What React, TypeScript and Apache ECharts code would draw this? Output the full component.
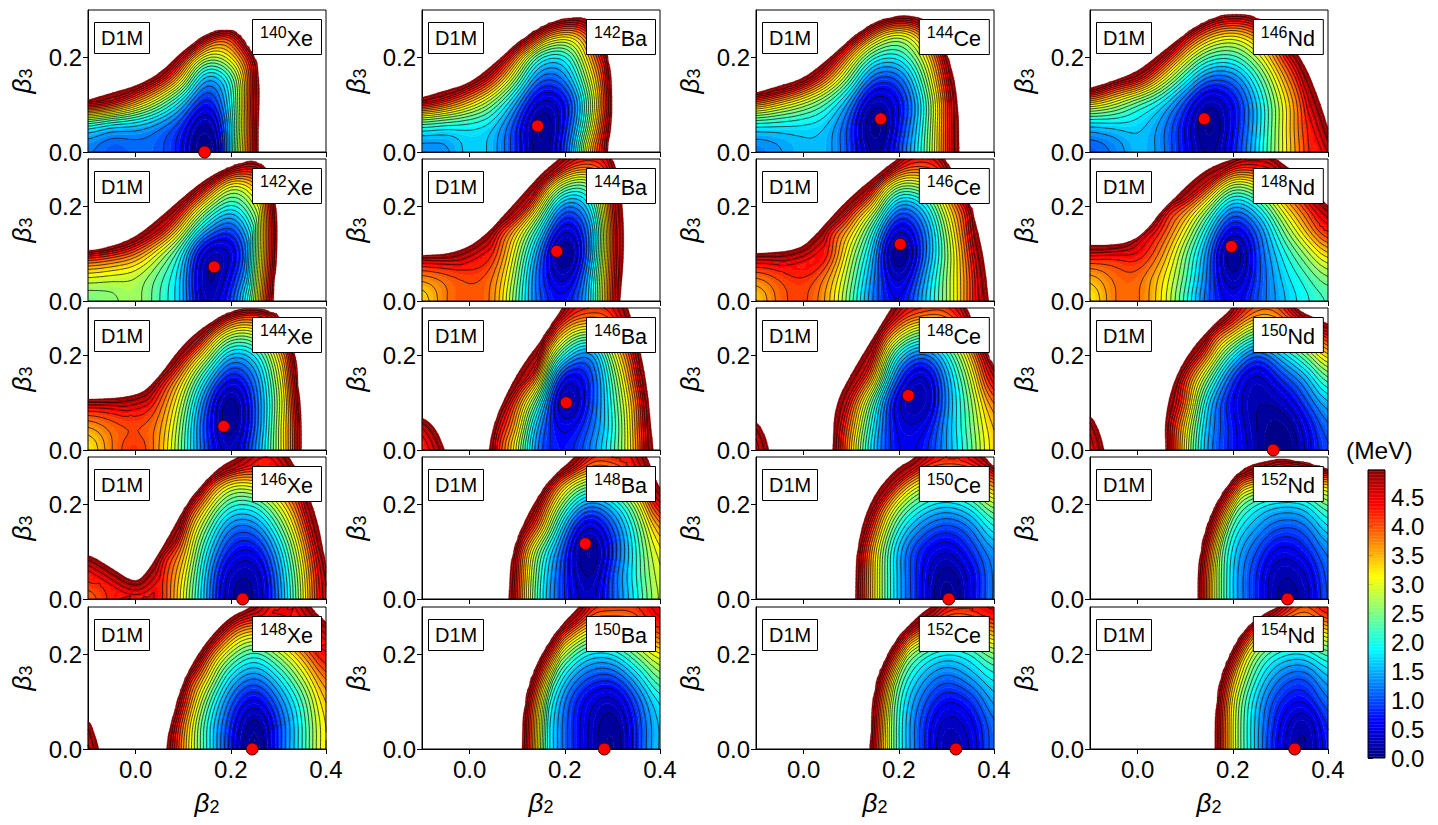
import React, { useEffect, useRef } from "react";
import * as echarts from "echarts";

const FONT = '"Liberation Sans", Arial, sans-serif';

// grid of energies (MeV): rows are beta3 = 0 .. 0.30, columns are beta2 = -0.10 .. 0.40
const beta2Grid = [-0.1, -0.05, 0, 0.05, 0.1, 0.15, 0.2, 0.25, 0.3, 0.35, 0.4];
const beta3Grid = [0, 0.05, 0.1, 0.15, 0.2, 0.25, 0.3];

const xe140 = [[1.2,1.0,1.1,1.05,.6,0,1.9,4.7,7.8,11,12],[1.8,1.5,1.45,1.2,.75,.1,1.8,4.7,7.8,11,12],[4.6,4.2,3.4,2.5,1.5,.6,1.9,4.8,7.8,11,12],[7.8,6.8,5.7,4.5,3,1.3,2.1,4.7,8,11,12],[11,10,9,7,4.5,2.8,3.2,4.9,8,11,12],[12,12,12,10,7.8,4.9,4.4,7,10,12,12],[12,12,12,12,10.5,8.5,7.8,9,12,12,12]];
const ba142 = [[1.25,1.3,1.7,1.5,.8,.1,.9,3.4,5.3,8,11],[1.9,1.8,1.8,1.6,.8,.05,.7,2.7,5.3,8,11],[4.4,3.9,3.2,2.4,1.3,.3,.6,2.4,5,8,11],[7.5,6.4,5.3,4,2.4,1,1.2,2.8,5,8,11],[11,9.5,8,5.8,3.7,2,1.9,3.4,5.4,9,12],[12,12,11,8.5,6,4.2,3.4,4.1,7,10,12],[12,12,12,12,9,7,6,6,9,12,12]];
const ce144 = [[1.2,1.35,1.55,1.5,.9,.15,.9,2.1,4.1,6.8,10],[1.7,1.7,1.7,1.55,.85,.03,.7,2,4.1,6.8,10],[3.7,3.2,2.7,2.1,1.2,.2,.6,1.9,4.1,6.8,10],[6.8,6,4.9,3.6,2.2,.9,1,2.3,4.4,7,10],[11,9.5,7.8,5.4,3.4,2,1.9,2.9,4.9,8,11],[12,12,11,8,5.5,3.7,3,3.8,6,9,12],[12,12,12,11,8.5,6.5,5.8,6,8.5,12,12]];
const nd146 = [[1,1.2,1.55,1.3,.65,.15,.7,1.7,2.9,4,4.9],[1.5,1.6,1.65,1.3,.6,.05,.6,1.6,2.9,4.1,5],[3.2,2.8,2.2,1.7,.9,.2,.6,1.6,2.9,4.2,6],[6.2,5,4.4,3.1,1.9,1,1.1,2,3.3,4.7,7.5],[9.5,8.2,6.8,4.9,3.2,2.2,2.1,2.8,4,5.7,10],[12,11,9.5,7.5,5,3.7,3.3,3.8,4.9,8.5,12],[12,12,12,10,7.8,5.8,5.3,5.6,8,12,12]];

const xe142 = [[2.4,2.5,2.7,2.2,1.5,.25,.9,2.8,5.7,9,12],[3,2.9,2.8,2.3,1.5,.15,.6,2.2,5.3,8.5,12],[4.6,4.3,3.8,2.9,1.8,.3,.4,1.9,4.6,8,12],[8.5,7.5,6,4.6,3,1.4,.9,2.2,4.6,8,12],[12,10.5,9,6.8,4.5,2.8,1.9,2.8,4.6,8,12],[12,12,12,10,7,4.8,3.2,3.6,5,8.5,12],[12,12,12,12,10,8,5.9,5,6,10,12]];
const ba144 = [[3.2,3.8,4.0,3.7,2.3,1,.7,1.6,4.3,7,10],[3.7,3.9,4.05,3.8,2.5,.9,.3,1.5,4.2,7,10],[5.1,5.1,4.9,4.2,2.8,1.1,.05,1.2,4.1,7,10],[8.9,8.9,7.8,4.8,3.4,1.8,.4,1.2,4.1,7,10],[12,12,11,7.5,5.3,3,1.2,1.7,4.3,7,10],[12,12,12,11,8,4.6,2.8,2.6,4.4,7.5,11],[12,12,12,12,10.5,7.5,5,4.4,4.9,8.5,12]];
const ce146 = [[3.3,3.9,4.05,3.5,2.3,1.1,.6,1.5,2.6,4,5.8],[3.8,4.05,4.2,3.7,2.5,1.2,.3,1.3,2.6,4,6],[5,5,5.2,4.3,2.8,1.4,.05,1,2.5,4.2,6.6],[8.5,8.5,7,4.5,3.4,1.9,.4,1.1,2.7,4.5,7.5],[12,12,10.5,7.5,4.6,3.1,1.3,1.7,3.2,4.8,8],[12,12,12,11,8,4.6,2.9,3,4,7,11],[12,12,12,12,11,7.8,5,4.4,5,9,12]];
const nd148 = [[3.1,3.8,3.85,3.2,2.1,1,.55,1,1.5,1.9,2.2],[3.5,3.85,3.9,3.3,2.3,1.1,.2,.9,1.6,2.1,2.6],[4.5,4.4,4.4,3.7,2.5,1.2,.07,.9,1.8,2.6,3.4],[7,7,5.2,4.2,3.1,1.7,.5,1.1,2.3,3.4,4.4],[11,11,9,5,4,2.7,1.4,1.9,3.1,4.1,5],[12,12,12,8.5,6.3,4.4,2.9,3.2,4.1,5.2,7],[12,12,12,12,9.5,7,5.1,4.8,5.1,8,11]];

const xe144 = [[3.1,3.8,4.2,3.6,2.3,.9,.3,1.2,2.8,4.9,8],[3.6,3.9,4,3.7,2.4,.8,.1,1,2.8,4.9,8],[4.7,4.7,4.8,4,2.7,1,.1,1,2.7,4.9,8],[8,8,7,4.8,3.3,1.7,.6,1.2,2.9,5,8.5],[12,11.5,11,7.5,4.6,2.9,1.5,1.8,3.3,5.5,9],[12,12,12,11,7.5,4.5,3,3,4.2,7,11],[12,12,12,12,11,7.5,5,4.6,5.3,8.5,12]];
const ba146 = [[4.2,5.2,7.9,4.6,2.9,1,.7,1.2,2.1,3.6,6],[4.7,6,8.5,5,3.4,1.2,.5,1,2,3.7,6.1],[7,8.9,9.9,6,3.9,1.9,.15,.8,2.1,3.8,6.4],[12,12,12,8.5,5.3,3.2,.5,.8,2.3,4.2,7],[12,12,12,12,9.2,4.2,1.9,1.2,2.8,4.6,7.8],[12,12,12,12,12,5.6,3.4,2.8,3.6,5.3,9],[12,12,12,12,12,8,4.9,4.3,4.4,6,10]];
const ce148 = [[4.5,6.6,9.2,5.8,3.4,1.5,.6,.7,1.4,2.3,3.4],[4.9,7.5,9.2,5.8,3.7,1.7,.5,.5,1.4,2.4,3.5],[7.5,9.2,9.6,6.4,4.2,2.1,.4,.2,1.3,2.5,3.9],[12,12,10.6,7.8,5.3,3.3,.9,.3,1.4,2.8,4.7],[12,12,12,12,7.2,4.2,1.8,1.1,1.9,3.4,5.4],[12,12,12,12,9.9,5.3,3.4,2.6,3,4.3,7],[12,12,12,12,12,7.2,4.8,4.3,4.2,5.3,9]];
const nd150 = [[4.6,6.4,9,5.6,3.1,1.3,.7,.25,0,.4,1],[4.8,7.2,9,5.5,3.3,1.4,.7,.2,.05,.5,1.2],[6.5,8.5,9.5,5.9,3.9,1.6,.6,.2,.3,.9,1.6],[12,12,10.5,6.7,4.2,2.4,.9,.3,.8,1.4,2.4],[12,12,12,9,5.7,3.6,1.9,1,1.6,2.4,3.4],[12,12,12,12,9.5,4.8,3.5,2.5,2.9,3.5,4.7],[12,12,12,12,12,7.8,5,4,4.1,5.7,7]];

const xe146 = [[3.8,4.3,4.9,4.4,3,1.4,.2,.2,1.2,2.9,4.9],[4.4,4.7,6,4.4,3.2,1.5,.3,.25,1.3,3,5],[5.2,7,8.5,5,3.6,1.8,.7,.6,1.6,3.3,5.3],[8.8,10.6,12,8.5,4.2,2.4,1.2,1.2,2.2,3.8,6],[12,12,12,10,5.4,3.3,2.1,2.1,3,4.4,7],[12,12,12,12,8.5,4.8,3.4,3.4,4,5.1,7.8],[12,12,12,12,12,8.2,6,4.8,4.9,7,10]];
const ba148 = [[12,12,9.5,7.3,4.2,1.9,.8,.3,1,1.9,2.9],[12,12,9.5,7.5,4.3,2,.8,.15,1,2,3],[12,12,10,7.8,4.5,2.3,.9,.05,.8,2,3.2],[12,12,12,9,5.5,3.5,1.4,.35,1,2.2,3.7],[12,12,12,12,7.5,4.4,2.4,1.3,1.7,2.8,4.7],[12,12,12,12,10,5.8,3.7,2.8,3,4,5.6],[12,12,12,12,12,8.5,6.4,4.4,4.3,4.8,7]];
const ce150 = [[12,12,12,9,5.6,3.2,1.5,.6,.03,.5,1.3],[12,12,12,9,5.7,3.2,1.5,.6,.1,.5,1.3],[12,12,12,9,5.8,3.3,1.5,.7,.4,.8,1.4],[12,12,12,10,6.5,3.9,2,1.2,.9,1.2,2],[12,12,12,12,8,4.8,2.9,2,1.7,2,2.8],[12,12,12,12,11,7.1,4.4,3.2,2.9,3.1,4],[12,12,12,12,12,10,7.1,4.9,4.4,4.6,5.3]];
const nd152 = [[12,12,12,10.5,7,3.6,1.6,.8,.15,.25,1.1],[12,12,12,10.5,7,3.6,1.6,.8,.2,.35,1.15],[12,12,12,11,7.2,3.7,1.7,1,.5,.7,1.3],[12,12,12,12,8.5,4.5,2.1,1.4,1,1.1,1.8],[12,12,12,12,10,5.8,2.9,2,1.7,1.8,2.5],[12,12,12,12,12,8.5,4.5,3.6,3.2,3.2,3.7],[12,12,12,12,12,12,7.8,6,5.1,5.2,6.6]];

const xe148 = [[4.5,6.9,9.5,6,3.6,2,.7,.03,.9,2,3.3],[4.7,7.8,9.9,6.4,3.8,2,.8,.1,.9,2,3.3],[7.2,11,10.6,7.5,4.4,2.4,1.1,.5,1.2,2.2,3.5],[12,12,12,8,5,3.2,1.7,1.2,1.8,2.8,3.9],[12,12,12,10.6,7.5,4.2,2.7,2.1,2.7,3.6,4.6],[12,12,12,12,9.9,6.4,4,3.4,3.8,4.6,5.3],[12,12,12,12,12,9.5,6,5,4.9,5,6.4]];
const ba150 = [[12,12,12,9.5,5.8,2.4,1.1,.4,.06,.8,1.7],[12,12,12,9.5,5.8,2.4,1.1,.4,.1,.8,1.7],[12,12,12,9.5,6,2.7,1.2,.5,.3,1,1.9],[12,12,12,12,7,3.5,1.7,1,.9,1.6,2.5],[12,12,12,12,9,4.6,2.7,1.8,1.8,2.5,3.2],[12,12,12,12,12,6.5,4.4,3.1,3,3.4,4.2],[12,12,12,12,12,9.5,7,4.5,4.2,4.2,4.9]];
const ce152 = [[12,12,12,12,8,4.4,2,.9,.2,.4,1.2],[12,12,12,12,8,4.4,2,.9,.3,.5,1.2],[12,12,12,12,8.2,4.6,2.1,1.1,.6,.8,1.5],[12,12,12,12,9.5,5.3,2.5,1.5,1.1,1.4,1.9],[12,12,12,12,12,7.8,3.4,2.2,1.8,2,2.6],[12,12,12,12,12,10,5.6,3.8,3,3.1,3.7],[12,12,12,12,12,12,8.5,6,4.5,4.4,4.8]];
const nd154 = [[12,12,12,12,9.5,6,3,1.5,.5,.15,.8],[12,12,12,12,9.5,6,3,1.5,.6,.2,.9],[12,12,12,12,9.5,6,3.1,1.6,.8,.6,1.2],[12,12,12,12,10,6.5,3.6,2,1.2,1,1.6],[12,12,12,12,12,8,4.4,2.6,1.9,1.8,2.3],[12,12,12,12,12,11,6,3.9,3,2.8,3.4],[12,12,12,12,12,12,9,6.8,4.9,4,4.6]];

// the 5 MeV edge of each surface as [beta2, beta3] from left to right
const edgeXe140 = [[[-.16,.095],[-.1,.11],[-.05,.125],[0,.139],[.05,.165],[.1,.215],[.15,.25],[.19,.26],[.217,.25],[.24,.215],[.253,.194],[.26,.15],[.26,.1],[.258,.05],[.258,0]]];
const edgeBa142 = [[[-.16,.1],[-.1,.115],[-.05,.13],[0,.145],[.05,.185],[.1,.23],[.15,.265],[.2,.283],[.25,.285],[.275,.25],[.292,.2],[.3,.1],[.295,.05],[.289,0]]];
const edgeCe144 = [[[-.16,.11],[-.1,.125],[-.05,.14],[0,.155],[.05,.195],[.1,.24],[.15,.275],[.2,.288],[.25,.285],[.28,.255],[.312,.18],[.325,.1],[.327,0]]];
const edgeNd146 = [[[-.16,.12],[-.1,.135],[-.05,.15],[0,.17],[.05,.21],[.1,.25],[.15,.28],[.2,.293],[.25,.285],[.3,.255],[.35,.19],[.385,.1],[.4,.05],[.42,0]]];
const edgeXe142 = [[[-.16,.095],[-.1,.105],[-.05,.115],[0,.135],[.05,.175],[.1,.22],[.15,.26],[.2,.285],[.25,.298],[.28,.275],[.295,.2],[.296,.1],[.288,0]]];
const edgeBa144 = [[[-.16,.093],[-.1,.093],[-.02,.104],[.03,.135],[.08,.19],[.15,.269],[.185,.298],[.22,.33],[.27,.33],[.304,.298],[.322,.21],[.325,.1],[.316,0]]];
const edgeCe146 = [[[-.16,.1],[-.1,.1],[-.01,.107],[.026,.14],[.087,.21],[.158,.27],[.193,.298],[.25,.33],[.3,.3],[.35,.21],[.378,.1],[.389,0]]];
const edgeNd148 = [[[-.16,.118],[-.02,.118],[.019,.149],[.06,.2],[.13,.27],[.186,.297],[.25,.31],[.305,.297],[.4,.2],[.46,.15]]];
const edgeXe144 = [[[-.16,.106],[0,.11],[.042,.145],[.098,.222],[.147,.264],[.203,.295],[.26,.3],[.316,.278],[.337,.194],[.347,.06],[.347,0]]];
const edgeBa146 = [[[-.16,.075],[-.1,.072],[-.07,.045],[-.052,0]],[[.041,0],[.047,.04],[.066,.095],[.106,.173],[.159,.243],[.194,.3],[.22,.34],[.31,.34],[.335,.3],[.37,.165],[.386,0]]];
const edgeCe148 = [[[-.16,.07],[-.1,.065],[-.08,.03],[-.073,0]],[[.061,0],[.065,.095],[.105,.17],[.158,.257],[.184,.3],[.21,.34],[.32,.34],[.343,.3],[.378,.22],[.4,.17],[.46,.12]]];
const edgeNd150 = [[[-.16,.08],[-.1,.078],[-.08,.04],[-.07,0]],[[.059,0],[.057,.067],[.075,.145],[.109,.208],[.158,.264],[.2,.3],[.23,.34],[.3,.34],[.325,.3],[.4,.267],[.46,.24]]];
const edgeXe146 = [[[-.16,.1],[-.1,.096],[-.05,.065],[-.003,.034],[.02,.05],[.063,.12],[.112,.21],[.175,.28],[.218,.3],[.25,.33],[.3,.33],[.337,.28],[.38,.18],[.4,.07],[.41,0]]];
const edgeBa148 = [[[.082,0],[.088,.093],[.123,.185],[.176,.262],[.22,.298],[.25,.34],[.35,.34],[.374,.3],[.4,.226],[.46,.18]]];
const edgeCe150 = [[[.109,0],[.112,.115],[.14,.21],[.193,.276],[.237,.298],[.26,.34],[.36,.34],[.378,.3],[.4,.276],[.46,.23]]];
const edgeNd152 = [[[.128,0],[.128,.058],[.137,.128],[.165,.205],[.214,.272],[.25,.288],[.31,.297],[.4,.276],[.46,.25]]];
const edgeXe148 = [[[-.16,.07],[-.1,.068],[-.085,.03],[-.077,0]],[[.065,0],[.07,.043],[.105,.156],[.147,.226],[.2,.282],[.245,.298],[.27,.34],[.35,.34],[.368,.298],[.4,.268],[.46,.22]]];
const edgeBa150 = [[[.112,0],[.115,.1],[.14,.18],[.19,.26],[.23,.3],[.26,.34],[.46,.34]]];
const edgeCe152 = [[[.14,0],[.145,.1],[.16,.17],[.2,.24],[.25,.29],[.27,.3],[.3,.34],[.46,.34]]];
const edgeNd154 = [[[.164,0],[.165,.1],[.18,.17],[.22,.25],[.27,.29],[.3,.3],[.33,.34],[.46,.34]]];

const surfaces = [xe140, ba142, ce144, nd146, xe142, ba144, ce146, nd148, xe144, ba146, ce148, nd150, xe146, ba148, ce150, nd152, xe148, ba150, ce152, nd154];
const edges = [edgeXe140, edgeBa142, edgeCe144, edgeNd146, edgeXe142, edgeBa144, edgeCe146, edgeNd148, edgeXe144, edgeBa146, edgeCe148, edgeNd150, edgeXe146, edgeBa148, edgeCe150, edgeNd152, edgeXe148, edgeBa150, edgeCe152, edgeNd154];
const massNumbers = ["140","142","144","146","142","144","146","148","144","146","148","150","146","148","150","152","148","150","152","154"];
const elements = ["Xe","Ba","Ce","Nd","Xe","Ba","Ce","Nd","Xe","Ba","Ce","Nd","Xe","Ba","Ce","Nd","Xe","Ba","Ce","Nd"];
const minBeta2 = [.145,.143,.162,.14,.165,.183,.203,.197,.185,.203,.22,.285,.225,.243,.305,.315,.245,.283,.32,.33];
const minBeta3 = [0,.055,.07,.07,.072,.105,.12,.115,.05,.1,.115,0,0,.117,0,0,0,0,0,0];
const xTicks = [0, 0.2, 0.4];
const yTicks = [0, 0.2];
const barTicks = [0, 0.5, 1, 1.5, 2, 2.5, 3, 3.5, 4, 4.5];

const VMAX = 5;
const FILL_STEP = 0.1;
const LINE_STEP = 0.2;
const SUB = 6;

function jet(t: number): string {
  const f = (a: number) => Math.max(0, Math.min(1, 1.5 - Math.abs(4 * t - a)));
  const c = (v: number) => Math.round(v * 255);
  return `rgb(${c(f(3))},${c(f(2))},${c(f(1))})`;
}

function cr(p0: number, p1: number, p2: number, p3: number, t: number) {
  return 0.5 * (2 * p1 + (p2 - p0) * t + (2 * p0 - 5 * p1 + 4 * p2 - p3) * t * t + (3 * p1 - p0 - 3 * p2 + p3) * t * t * t);
}

function resample(line: number[]): number[] {
  const out: number[] = [];
  const n = line.length;
  for (let i = 0; i < n - 1; i++) {
    for (let k = 0; k < SUB; k++) {
      out.push(cr(line[Math.max(0, i - 1)], line[i], line[i + 1], line[Math.min(n - 1, i + 2)], k / SUB));
    }
  }
  out.push(line[n - 1]);
  return out;
}

function chaikin(pl: number[][]): number[][] {
  let cur = pl;
  for (let it = 0; it < 2; it++) {
    const out: number[][] = [cur[0]];
    for (let i = 0; i < cur.length - 1; i++) {
      const a = cur[i], b = cur[i + 1];
      out.push([a[0] * 0.75 + b[0] * 0.25, a[1] * 0.75 + b[1] * 0.25]);
      out.push([a[0] * 0.25 + b[0] * 0.75, a[1] * 0.25 + b[1] * 0.75]);
    }
    out.push(cur[cur.length - 1]);
    cur = out;
  }
  return cur;
}

// the surface is bowl-shaped, so it is resampled for drawing in the square root of the energy;
// the read 5 MeV edge then sets exactly where the drawn surface ends
function fineSurface(z: number[][], edge: number[][][]): number[][] {
  const rows = z.map((r) => resample(r.map((v) => Math.sqrt(v))));
  const cols: number[][] = rows[0].map((_, i) => resample(rows.map((r) => r[i])));
  const nx = cols.length, ny = cols[0].length;
  const at = (i: number, j: number) => cols[Math.max(0, Math.min(nx - 1, i))][Math.abs(j) > ny - 1 ? ny - 1 : Math.abs(j)];
  const kern = [[-2, 0.25], [0, 0.5], [2, 0.25]];
  const x0 = beta2Grid[0], x1 = beta2Grid[beta2Grid.length - 1];
  const y1 = beta3Grid[beta3Grid.length - 1];
  const loops = edge.map((pl) => {
    const c = chaikin(pl);
    const a = c[0], b = c[c.length - 1];
    return [[a[0], -0.06], ...c, [b[0], -0.06]];
  });
  const out: number[][] = [];
  for (let i = 0; i < nx; i++) {
    const col: number[] = [];
    for (let j = 0; j < ny; j++) {
      let s = 0;
      for (const [di, wi] of kern) for (const [dj, wj] of kern) s += wi * wj * at(i + di, j + dj);
      let v = s < 0 ? 0 : s * s;
      const px = x0 + ((x1 - x0) * i) / (nx - 1);
      const py = (y1 * j) / (ny - 1);
      let inside = false;
      let d2 = 1;
      for (const lp of loops) {
        let inThis = false;
        for (let k = 0; k < lp.length; k++) {
          const a = lp[k], b = lp[(k + 1) % lp.length];
          if ((a[1] > py) !== (b[1] > py) && px < a[0] + ((py - a[1]) * (b[0] - a[0])) / (b[1] - a[1])) inThis = !inThis;
          if (k < 1 || k > lp.length - 3) continue; // the closing sides are not part of the edge
          const ex = b[0] - a[0], ey = b[1] - a[1];
          const t = Math.max(0, Math.min(1, ((px - a[0]) * ex + (py - a[1]) * ey) / (ex * ex + ey * ey || 1)));
          const qx = a[0] + ex * t - px, qy = a[1] + ey * t - py;
          d2 = Math.min(d2, qx * qx + qy * qy);
        }
        inside = inside || inThis;
      }
      const d = Math.sqrt(d2);
      if (inside) {
        v = Math.max(v, 5 - 60 * d);
        v = Math.min(v, d < 0.04 ? 5 - 20 * d : 4.2 + Math.max(0, v - 4.2) * 0.5);
      } else {
        v = 5 + 20 * d;
      }
      col.push(v);
    }
    out.push(col);
  }
  return out;
}

type V = [number, number, number];

function clipAbove(poly: V[], lv: number, sign: number): V[] {
  const out: V[] = [];
  for (let i = 0; i < poly.length; i++) {
    const a = poly[i];
    const b = poly[(i + 1) % poly.length];
    const ia = sign * (a[2] - lv) >= 0;
    const ib = sign * (b[2] - lv) >= 0;
    if (ia) out.push(a);
    if (ia !== ib) {
      const t = (lv - a[2]) / (b[2] - a[2]);
      out.push([a[0] + (b[0] - a[0]) * t, a[1] + (b[1] - a[1]) * t, lv]);
    }
  }
  return out;
}

function contourChildren(z: number[][], edge: number[][][], api: any) {
  const fine = fineSurface(z, edge);
  const nx = fine.length;
  const ny = fine[0].length;
  const x0 = beta2Grid[0], x1 = beta2Grid[beta2Grid.length - 1];
  const y0 = beta3Grid[0], y1 = beta3Grid[beta3Grid.length - 1];
  const pts: number[][][] = [];
  for (let i = 0; i < nx; i++) {
    pts.push([]);
    for (let j = 0; j < ny; j++) {
      pts[i].push(api.coord([x0 + ((x1 - x0) * i) / (nx - 1), y0 + ((y1 - y0) * j) / (ny - 1)]));
    }
  }
  const nBands = Math.round(VMAX / FILL_STEP);
  const bands: string[][] = [];
  for (let b = 0; b < nBands; b++) bands.push([]);
  const lines: string[] = [];
  const nLines = Math.round(VMAX / LINE_STEP);

  const tri = (a: V, b: V, c: V) => {
    const mn = Math.min(a[2], b[2], c[2]);
    const mx = Math.max(a[2], b[2], c[2]);
    if (mn >= VMAX) return;
    const s = Math.max(0, Math.floor(mn / FILL_STEP));
    const e = Math.min(nBands - 1, Math.floor(mx / FILL_STEP));
    for (let k = s; k <= e; k++) {
      const lo = k * FILL_STEP;
      const hi = (k + 1) * FILL_STEP;
      let poly: V[] = [a, b, c];
      if (mn < lo) poly = clipAbove(poly, lo, 1);
      if (poly.length && mx > hi) poly = clipAbove(poly, hi, -1);
      if (poly.length < 3) continue;
      bands[k].push("M" + poly.map((p) => p[0].toFixed(1) + " " + p[1].toFixed(1)).join("L") + "Z");
    }
    const ls = Math.max(1, Math.ceil(mn / LINE_STEP));
    const le = Math.min(nLines - 1, Math.floor(mx / LINE_STEP));
    for (let k = ls; k <= le; k++) {
      const lv = k * LINE_STEP;
      const seg: number[][] = [];
      const edgesT = [[a, b], [b, c], [c, a]];
      for (const [p, q] of edgesT) {
        if ((p[2] < lv) !== (q[2] < lv)) {
          const t = (lv - p[2]) / (q[2] - p[2]);
          seg.push([p[0] + (q[0] - p[0]) * t, p[1] + (q[1] - p[1]) * t]);
        }
      }
      if (seg.length === 2) {
        lines.push(`M${seg[0][0].toFixed(1)} ${seg[0][1].toFixed(1)}L${seg[1][0].toFixed(1)} ${seg[1][1].toFixed(1)}`);
      }
    }
  };

  for (let i = 0; i < nx - 1; i++) {
    for (let j = 0; j < ny - 1; j++) {
      const A: V = [pts[i][j][0], pts[i][j][1], fine[i][j]];
      const B: V = [pts[i + 1][j][0], pts[i + 1][j][1], fine[i + 1][j]];
      const C: V = [pts[i + 1][j + 1][0], pts[i + 1][j + 1][1], fine[i + 1][j + 1]];
      const D: V = [pts[i][j + 1][0], pts[i][j + 1][1], fine[i][j + 1]];
      tri(A, B, C);
      tri(A, C, D);
    }
  }

  const children: any[] = [];
  bands.forEach((b, k) => {
    if (!b.length) return;
    const col = jet((k + 0.5) / nBands);
    children.push({ type: "path", silent: true, shape: { pathData: b.join("") }, style: { fill: col, stroke: col, lineWidth: 0.3 } });
  });
  if (lines.length) {
    children.push({ type: "path", silent: true, shape: { pathData: lines.join("") }, style: { fill: "none", stroke: "#000", lineWidth: 0.7 } });
  }
  const tl = api.coord([x0, y1]);
  const br = api.coord([x1, y0]);
  children.push({ type: "rect", silent: true, shape: { x: tl[0], y: tl[1], width: br[0] - tl[0], height: br[1] - tl[1] }, style: { fill: "none", stroke: "#000", lineWidth: 1 } });
  return children;
}

const PANEL_LEFT = [88, 422, 756, 1090];
const PANEL_TOP = [10, 159, 308, 457, 607];
const PANEL_W = 238;
const PANEL_H = 142;

function buildOption() {
  const grid: any[] = [];
  const xAxis: any[] = [];
  const yAxis: any[] = [];
  const series: any[] = [];
  const title: any[] = [];
  const axisCommon = {
    axisLine: { show: true, onZero: false, lineStyle: { color: "#000", width: 1 } },
    splitLine: { show: false },
  };
  const betaRich = {
    i: { fontStyle: "italic", fontSize: 26, fontFamily: FONT, color: "#000", lineHeight: 27 },
    s: { fontSize: 18, fontFamily: FONT, color: "#000", lineHeight: 15, verticalAlign: "bottom" },
  };
  surfaces.forEach((z, idx) => {
    const row = Math.floor(idx / 4);
    const col = idx % 4;
    const px = PANEL_LEFT[col];
    const py = PANEL_TOP[row];
    const bottom = row === 4;
    grid.push({ left: px, top: py, width: PANEL_W, height: PANEL_H, show: false });
    xAxis.push({
      gridIndex: idx, type: "value", min: -0.1, max: 0.4, ...axisCommon,
      axisTick: { show: true, length: 5, customValues: xTicks, lineStyle: { color: "#000", width: 1 } },
      axisLabel: {
        show: bottom, customValues: xTicks, formatter: (v: number) => v.toFixed(1),
        color: "#000", fontSize: 24, fontFamily: FONT, margin: 8,
      },
      name: bottom ? "{i|β}{s|2}" : "", nameLocation: "middle", nameGap: 40,
      nameTextStyle: { rich: betaRich },
    });
    yAxis.push({
      gridIndex: idx, type: "value", min: 0, max: 0.3, ...axisCommon,
      axisTick: { show: true, length: 5, customValues: yTicks, lineStyle: { color: "#000", width: 1 } },
      axisLabel: {
        show: true, customValues: yTicks, formatter: (v: number) => v.toFixed(1),
        color: "#000", fontSize: 24, fontFamily: FONT, margin: 6,
      },
      name: "{i|β}{s|3}", nameLocation: "middle", nameGap: 53,
      nameTextStyle: { rich: betaRich },
    });
    series.push({
      type: "custom", coordinateSystem: "cartesian2d", xAxisIndex: idx, yAxisIndex: idx,
      silent: true, z: 2, data: [[0.15, 0.15]],
      renderItem: (_p: any, api: any) => ({ type: "group", children: contourChildren(z, edges[idx], api) }),
    });
    series.push({
      type: "scatter", xAxisIndex: idx, yAxisIndex: idx, clip: false, silent: true, z: 5,
      symbolSize: 12, data: [[minBeta2[idx], minBeta3[idx]]],
      itemStyle: { color: "#ff0000", borderColor: "#3a0000", borderWidth: 1, opacity: 1 },
    });
    title.push({
      text: "D1M", left: px + 6, top: py + 12, padding: [6, 7], z: 8,
      backgroundColor: "#fff", borderColor: "#000", borderWidth: 1,
      textStyle: { fontSize: 20, fontWeight: "normal", color: "#000", fontFamily: FONT, lineHeight: 20 },
    });
    title.push({
      text: `{s|${massNumbers[idx]}}{e|${elements[idx]}}`, right: 1438 - (px + 234), top: py + 9, padding: [5, 9, 5, 8], z: 8,
      backgroundColor: "#fff", borderColor: "#000", borderWidth: 1,
      textStyle: {
        fontWeight: "normal", color: "#000", fontFamily: FONT,
        rich: {
          s: { fontSize: 16, fontFamily: FONT, color: "#000", lineHeight: 15, verticalAlign: "top" },
          e: { fontSize: 21.5, fontFamily: FONT, color: "#000", lineHeight: 30 },
        },
      },
    });
  });

  // colour bar
  const barIdx = surfaces.length;
  const barMax = 4.98;
  const barLevels: number[][] = [];
  for (let i = 0; i * 0.025 < barMax; i++) barLevels.push([0, i * 0.025]);
  grid.push({ left: 1368, top: 470, width: 17, height: 288, show: false });
  xAxis.push({ gridIndex: barIdx, type: "value", min: 0, max: 1, show: false });
  yAxis.push({
    gridIndex: barIdx, type: "value", min: 0, max: barMax, position: "right",
    axisLine: { show: true, lineStyle: { color: "#000", width: 1 } },
    splitLine: { show: false },
    axisTick: { show: true, length: 5, customValues: barTicks, lineStyle: { color: "#000", width: 1 } },
    axisLabel: {
      show: true, customValues: barTicks, formatter: (v: number) => v.toFixed(1),
      color: "#000", fontSize: 24, fontFamily: FONT, margin: 6,
    },
  });
  series.push({
    type: "custom", coordinateSystem: "cartesian2d", xAxisIndex: barIdx, yAxisIndex: barIdx,
    silent: true, z: 2, data: barLevels, encode: { x: 0, y: 1 },
    renderItem: (_p: any, api: any) => {
      const v = api.value(1);
      const a = api.coord([0, v]);
      const b = api.coord([1, Math.min(barMax, v + 0.025)]);
      return {
        type: "rect", silent: true,
        shape: { x: a[0], y: b[1] - 0.3, width: b[0] - a[0], height: a[1] - b[1] + 0.3 },
        style: { fill: jet(v / VMAX) },
      };
    },
  });
  series.push({
    type: "custom", coordinateSystem: "cartesian2d", xAxisIndex: barIdx, yAxisIndex: barIdx,
    silent: true, z: 3, data: [[0, 0]],
    renderItem: (_p: any, api: any) => {
      const a = api.coord([0, 0]);
      const b = api.coord([1, barMax]);
      return { type: "rect", silent: true, shape: { x: a[0], y: b[1], width: b[0] - a[0], height: a[1] - b[1] }, style: { fill: "none", stroke: "#000", lineWidth: 1 } };
    },
  });
  title.push({
    text: "(MeV)", left: 1346, top: 438, padding: 0,
    textStyle: { fontSize: 24.5, fontWeight: "normal", color: "#000", fontFamily: FONT },
  });

  return { animation: false, backgroundColor: "#fff", grid, xAxis, yAxis, series, title };
}

export default function App() {
  const ref = useRef<HTMLDivElement>(null);
  useEffect(() => {
    const chart = echarts.init(ref.current!, undefined, { renderer: "svg" });
    chart.setOption(buildOption() as any);
    return () => chart.dispose();
  }, []);
  return <div ref={ref} style={{ position: "absolute", left: 0, top: 0, width: 1438, height: 825 }} />;
}
